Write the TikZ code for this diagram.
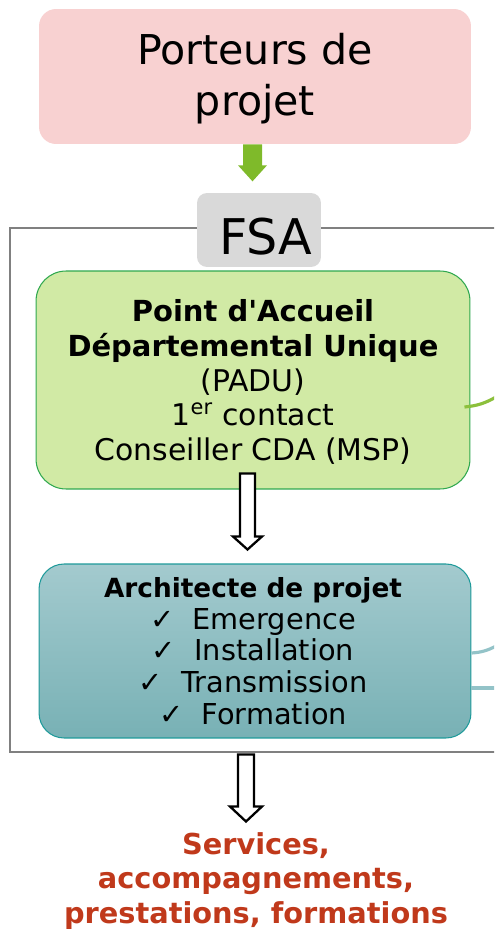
\documentclass[tikz,border=0pt]{standalone}
\usepackage{fontspec}
\setmainfont{DejaVu Sans}
\usetikzlibrary{calc}
\definecolor{pinkbox}{HTML}{F8D1D1}
\definecolor{fsagray}{HTML}{D9D9D9}
\definecolor{padufill}{HTML}{D1EAA5}
\definecolor{paduline}{HTML}{2FA84F}
\definecolor{arrowgreen}{HTML}{7FBA2A}
\definecolor{linkgreen}{HTML}{8CC03C}
\definecolor{tealtop}{HTML}{A3CACE}
\definecolor{tealbot}{HTML}{78B1B5}
\definecolor{tealline}{HTML}{1E9A9A}
\definecolor{linkteal}{HTML}{93C3C8}
\definecolor{redtext}{HTML}{C0391B}
\definecolor{framegray}{HTML}{808080}
\tikzset{
  hollowarrow/.style={draw=black, fill=white, line width=1.3pt, line join=miter},
  boxtext/.style={align=center, inner sep=0pt},
}
\begin{document}
\begin{tikzpicture}[x=0.02cm, y=-0.02cm]
			\useasboundingbox (0,0) rectangle (494,929);
			\clip (0,0) rectangle (494,929);
			% outer frame, open on the right
			\draw[framegray, line width=1.6pt] (500,228) -- (10,228) -- (10,752) -- (500,752);
			% boxes
			\node[fill=pinkbox, rounded corners=0.34cm, minimum width=8.64cm, minimum height=2.7cm] (porteurs) at (255,76.5) {};
			\node[boxtext, font=\fontsize{23.4}{29}\selectfont] (porteurstext) at (255,79) {Porteurs de\\projet};
			\node[fill=fsagray, rounded corners=0.2cm, minimum width=2.48cm, minimum height=1.48cm] (fsa) at (259,230) {};
			\node[boxtext, font=\fontsize{28}{34}\selectfont] (fsalabel) at ($(fsa.center)+(7,7)$) {FSA};
			\node[fill=padufill, draw=paduline, line width=0.6pt, rounded corners=0.6cm, minimum width=8.68cm, minimum height=4.36cm] (padu) at (253,380) {};
			\node[boxtext, font=\fontsize{17}{19.8}\selectfont] (padutext) at (253,382)
				{{\fontsize{16.5}{19.8}\selectfont\bfseries Point d\textquotesingle Accueil}\\{\fontsize{16.5}{19.8}\selectfont\bfseries Départemental Unique}\\(PADU)\\1\textsuperscript{er} contact\\Conseiller CDA (MSP)};
			\node[top color=tealtop, bottom color=tealbot, draw=tealline, line width=0.6pt, rounded corners=0.5cm, minimum width=8.64cm, minimum height=3.48cm] (archi) at (255,651) {};
			\node[boxtext, font=\fontsize{16.4}{18.1}\selectfont] (architext) at (253,651)
				{{\fontsize{15}{18.1}\selectfont\bfseries Architecte de projet}\\✓\ \ Emergence\\✓\ \ Installation\\✓\ \ Transmission\\✓\ \ Formation};
			\node[boxtext, text=redtext, font=\fontsize{16.4}{19.8}\selectfont\bfseries] (services) at (256,881)
				{Services,\\accompagnements,\\prestations, formations};
			% arrows
			\fill[arrowgreen] ($(porteurs.south)+(-12,0)$) -- ++(0,21) -- ++(-5,0) -- ++(14.5,16) -- ++(14.5,-16) -- ++(-5,0) -- ++(0,-21) -- cycle;
			\draw[hollowarrow] ($(padu.south)+(-13,-16)$) -- ++(0,63) -- ++(-7,0) -- ++(14.5,13) -- ++(14.5,-13) -- ++(-7,0) -- ++(0,-63) -- cycle;
			\draw[hollowarrow] ($(archi.south)+(-17,16)$) -- ++(0,52) -- ++(-8,0) -- ++(16,15) -- ++(16,-15) -- ++(-8,0) -- ++(0,-52) -- cycle;
			% links leaving the picture on the right
			\coordinate (outgreen) at (496,397);
			\coordinate (outteal1) at (496,646);
			\coordinate (outteal2) at (496,688);
			\draw[linkgreen, line width=1.8pt] ($(padu.east)+(-6,27)$) to[bend right=12] (outgreen);
			\draw[linkteal, line width=1.8pt] ($(archi.east)+(0,2)$) to[bend right=12] (outteal1);
			\draw[linkteal, line width=1.8pt] ($(archi.east)+(0,37)$) -- (outteal2);
		\end{tikzpicture}
\end{document}
